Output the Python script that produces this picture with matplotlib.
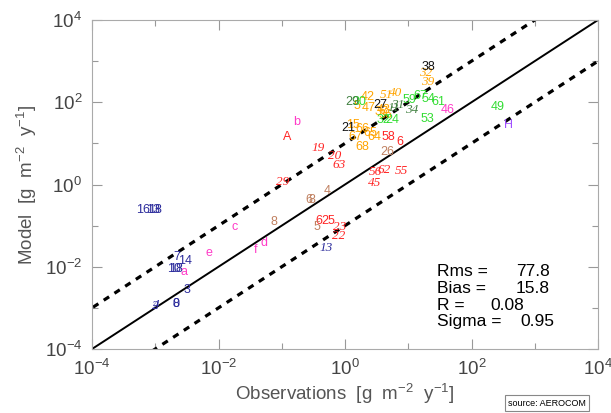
import matplotlib
matplotlib.use('Agg')
import matplotlib.pyplot as plt
import numpy as np
from matplotlib.ticker import FixedLocator, FuncFormatter, NullFormatter

plt.rcParams['font.family'] = ['Liberation Sans', 'DejaVu Sans']
plt.rcParams['mathtext.fontset'] = 'custom'
plt.rcParams['mathtext.rm'] = 'Liberation Sans'
plt.rcParams['mathtext.it'] = 'Liberation Sans:italic'

# station labels, observed and modelled deposition [g m-2 y-1]
labels = ['16', '13', '18', '7', '14', '10', '18', '3', '0', '8', '2', '4', '13',
          'a', 'b', 'c', 'd', 'e', 'f', '46',
          'H',
          'A', '19', '20', '63', '29', '58', '6', '56', '62', '45', '55', '6', '25', '23', '22',
          '26', '6', '8', '4', '8', '5',
          '32', '39', '42', '47', '5', '51', '40', '37', '36', '43', '15', '66', '65', '67', '64', '68',
          '30', '32', '24', '59', '67', '54', '61', '53', '49',
          '29', '31', '34', '11',
          '38', '27', '21']
obs = [6.4e-4, 9.2e-4, 9.8e-4, 2.2e-3, 2.95e-3, 2.0e-3, 2.1e-3, 3.2e-3, 2.1e-3, 2.1e-3, 1.0e-3, 1.05e-3, 0.50,
       2.8e-3, 0.174, 0.018, 0.052, 0.0071, 0.038, 42,
       380,
       0.12, 0.37, 0.69, 0.81, 0.105, 4.8, 7.4, 3.0, 4.1, 2.9, 7.7, 0.39, 0.54, 0.83, 0.78,
       4.6, 0.27, 0.30, 0.52, 0.076, 0.36,
       19, 20, 2.3, 2.4, 1.55, 4.6, 6.4, 3.8, 4.4, 4.1, 1.35, 1.9, 2.5, 1.45, 2.9, 1.9,
       1.7, 4.0, 5.5, 10.3, 15.4, 21, 30, 20, 263,
       1.29, 6.9, 11.4, 5.9,
       20.5, 3.6, 1.12]
model = [0.24, 0.24, 0.24, 0.017, 0.0138, 0.0088, 0.0088, 0.0027, 0.00123, 0.00123, 0.0011, 0.00115, 0.028,
         0.0074, 33, 0.091, 0.037, 0.021, 0.025, 65,
         28,
         14, 7.7, 4.9, 3.0, 1.15, 14, 10.7, 2.0, 2.24, 1.08, 2.1, 0.129, 0.129, 0.092, 0.055,
         6.1, 0.42, 0.42, 0.69, 0.122, 0.091,
         520, 310, 134, 72, 81, 150, 167, 58, 49, 65, 28, 22, 18, 14, 14, 8.1,
         100, 37, 37, 113, 141, 120, 100, 39, 76,
         100, 85, 65, 72,
         720, 85, 23]
region = ['g1'] * 13 + ['g2'] * 7 + ['g3'] + ['g4'] * 15 + ['g5'] * 6 + \
         ['g6'] * 16 + ['g7'] * 9 + ['g8'] * 4 + ['g9'] * 3
# label kind: u = upright station label, i = italic station label
kind = list('uuuuuuuuuuiii') + list('uuuuuuu') + ['u'] + \
       list('uiiiiuuiiiiuuii') + list('uuuuuu') + \
       list('iiuuuiiuuuuuuuuu') + list('uuuuuuuuu') + list('uiii') + list('uuu')

stat_names = ['Rms =', 'Bias =', 'R =', 'Sigma =']
stat_values = ['77.8', '15.8', '0.08', '0.95']

region_colors = {'g1': '#2c2c9c', 'g2': '#ff3cc8', 'g3': '#a050ff', 'g4': '#ff2424',
                 'g5': '#c08060', 'g6': '#ffa400', 'g7': '#33dd33', 'g8': '#3f7f3f',
                 'g9': '#111111'}

fig = plt.figure(figsize=(6.11, 4.13), dpi=100)
ax = fig.add_axes([92 / 611, 1 - 349 / 413, 506 / 611, 329 / 413])
ax.set_xscale('log')
ax.set_yscale('log')
ax.set_xlim(1e-4, 1e4)
ax.set_ylim(1e-4, 1e4)

xx = np.array([1e-5, 1e5])
ax.plot(xx, xx, color='black', lw=1.4)
ax.plot(xx, xx * 10, color='black', lw=2.3, ls=(0, (2, 2)))
ax.plot(xx, xx / 10, color='black', lw=2.3, ls=(0, (2, 2)))

for lab, xo, ym, reg, k in zip(labels, obs, model, region, kind):
    if k == 'i':
        ax.text(xo, ym, lab, color=region_colors[reg], fontsize=9.5, ha='center', va='center',
                family='Liberation Serif', style='italic')
    else:
        ax.text(xo, ym, lab, color=region_colors[reg], fontsize=9, ha='center', va='center')

major = [10.0 ** k for k in range(-4, 5, 2)]
minor = [10.0 ** k for k in range(-3, 4, 2)]
fmt = FuncFormatter(lambda v, p: r'$10^{%d}$' % round(np.log10(v)))
for axis in (ax.xaxis, ax.yaxis):
    axis.set_major_locator(FixedLocator(major))
    axis.set_minor_locator(FixedLocator(minor))
    axis.set_major_formatter(fmt)
    axis.set_minor_formatter(NullFormatter())
ax.tick_params(which='both', direction='in', top=True, right=True, color='#999999',
               labelcolor='#444444', labelsize=13.5)
ax.tick_params(which='major', length=7, width=0.8, pad=7)
ax.tick_params(which='minor', length=4, width=0.8)
for s in ax.spines.values():
    s.set_color('#aaaaaa')
    s.set_linewidth(0.8)

ax.set_xlabel('Observations  [g  m$^{-2}$  y$^{-1}$]', fontsize=13.5, color='#555555', labelpad=2)
ax.set_ylabel('Model  [g  m$^{-2}$  y$^{-1}$]', fontsize=13.5, color='#555555', labelpad=4)

name_y = [0.237, 0.183, 0.131, 0.084]
value_x = [0.838, 0.838, 0.787, 0.846]
for nm, val, yy, vx in zip(stat_names, stat_values, name_y, value_x):
    ax.text(0.682, yy, nm, transform=ax.transAxes, fontsize=12.5, va='center', ha='left')
    ax.text(vx, yy, val, transform=ax.transAxes, fontsize=12.5, va='center', ha='left')

fig.text(547 / 611, 1 - 403 / 413, 'source: AEROCOM', fontsize=6.5, ha='center', va='center',
         bbox=dict(boxstyle='square,pad=0.35', fc='white', ec='#888888', lw=0.8))

fig.savefig('out.png', dpi=100)
